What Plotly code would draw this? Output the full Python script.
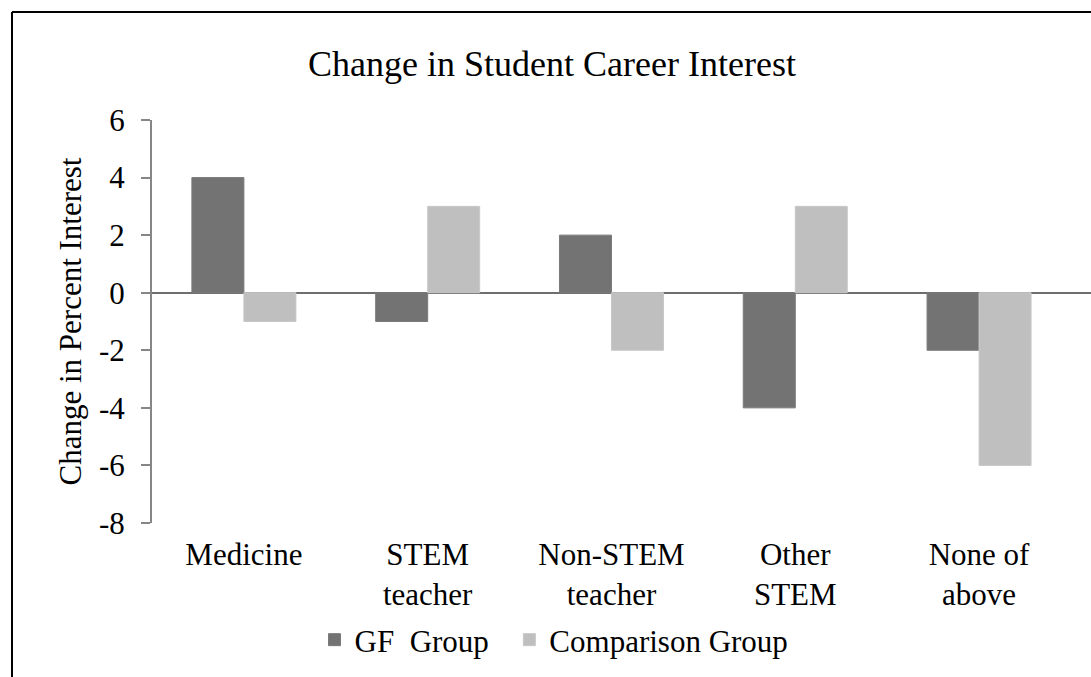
import plotly.graph_objects as go

# Career categories and change in percent interest per group
categories = ["Medicine", "STEM<br>teacher", "Non-STEM<br>teacher", "Other<br>STEM", "None of<br>above"]
gf_group = [4, -1, 2, -4, -2]
comparison_group = [-1, 3, -2, 3, -6]
y_ticks = [-8, -6, -4, -2, 0, 2, 4, 6]

FONT = "Liberation Serif, Times New Roman, serif"
FS = 31
W, H = 1091, 677
ML, MR, MT, MB = 152, 0, 120, 154

fig = go.Figure()
fig.add_trace(go.Bar(
    x=categories, y=gf_group, name="GF\u00a0 Group\u00a0\u00a0",
    marker=dict(color="#737373", line=dict(color="#7a7a7a", width=1)),
))
fig.add_trace(go.Bar(
    x=categories, y=comparison_group, name="Comparison Group",
    marker=dict(color="#bfbfbf", line=dict(color="#c8c8c8", width=1)),
))

pw = W - ML - MR
ph = H - MT - MB


def px_x(px):
    return (px - ML) / pw


def px_y(py):
    return (H - MB - py) / ph


fig.update_layout(
    width=W, height=H,
    margin=dict(l=ML, r=MR, t=MT, b=MB, pad=0, autoexpand=False),
    paper_bgcolor="white", plot_bgcolor="white",
    barmode="group", bargap=0.434, bargroupgap=0,
    font=dict(family=FONT, size=FS, color="black"),
    title=dict(text="Change in Student Career Interest", x=552 / W, xanchor="center",
               y=1 - 63 / H, yanchor="middle", font=dict(size=36, family=FONT, color="black")),
    showlegend=True,
    legend=dict(orientation="h", x=px_x(554), xanchor="center",
                y=px_y(640), yanchor="middle",
                font=dict(size=FS, family=FONT, color="black"), itemwidth=30,
                tracegroupgap=0, bgcolor="rgba(0,0,0,0)"),
    xaxis=dict(
        range=[-0.5, 4.609], showline=False, showgrid=False, zeroline=False,
        ticks="", tickangle=0, tickfont=dict(size=FS, family=FONT, color="black"),
        ticklabelstandoff=10, automargin=False,
    ),
    yaxis=dict(
        range=[-8, 6], tickvals=y_ticks, ticktext=[str(v) for v in y_ticks],
        showgrid=False, showline=True, linecolor="#868686", linewidth=2,
        ticks="outside", ticklen=9, tickwidth=2, tickcolor="#868686",
        zeroline=True, zerolinecolor="#6e6e6e", zerolinewidth=2, automargin=False,
        tickfont=dict(size=FS, family=FONT, color="black"), ticklabelstandoff=10,
        title=dict(text="Change in Percent Interest", font=dict(size=FS, family=FONT, color="black"),
                   standoff=8),
    ),
    shapes=[
        # outer frame: left and top edges
        dict(type="line", xref="paper", yref="paper", x0=px_x(12), x1=px_x(12),
             y0=px_y(12), y1=px_y(H + 5), line=dict(color="black", width=2)),
        dict(type="line", xref="paper", yref="paper", x0=px_x(12), x1=px_x(W + 5),
             y0=px_y(12), y1=px_y(12), line=dict(color="black", width=2)),
    ],
)

fig.write_html("out.html")
